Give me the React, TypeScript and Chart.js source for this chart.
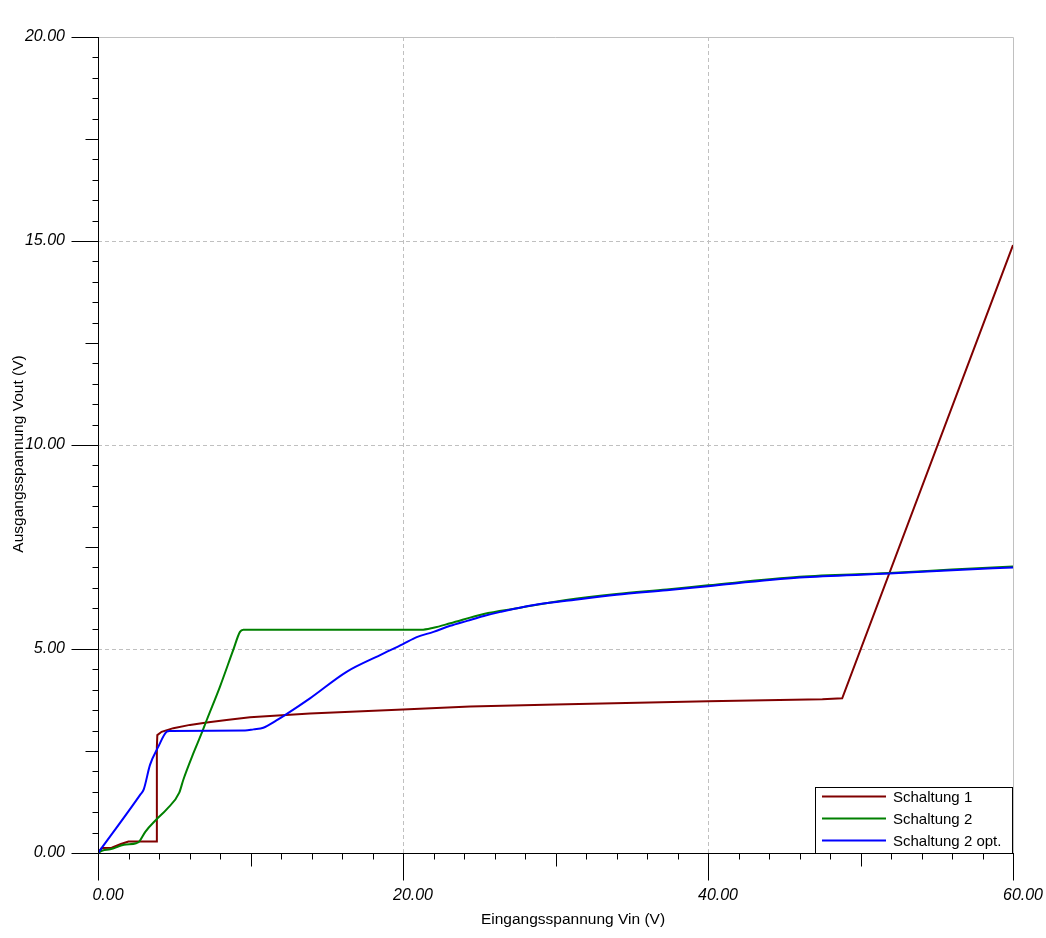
import React, { useEffect, useRef } from "react";
import { Chart, registerables } from "chart.js";

Chart.register(...registerables);

// ---- data ----
const seriesLabels = ["Schaltung 1", "Schaltung 2", "Schaltung 2 opt."];
const seriesColors = ["#800000", "#008000", "#0000ff"];

const s1X = [0, 0.25, 0.9, 1.5, 2.0, 3.82, 3.86, 3.89, 4.17, 4.94, 6.03, 7.13, 8.43, 9.97, 13.9, 20, 24.4, 30, 40, 47.5, 48.8, 60];
const s1Y = [0, 0.12, 0.13, 0.22, 0.28, 0.28, 2.6, 2.89, 2.97, 3.06, 3.14, 3.2, 3.26, 3.33, 3.42, 3.52, 3.59, 3.64, 3.72, 3.77, 3.79, 14.9];

const s2X = [0, 0.3, 0.8, 1.7, 2.5, 2.7, 3.1, 3.8, 4.5, 5.33, 5.59, 6.25, 6.79, 7.13, 8.0, 8.87, 9.31, 9.53, 21.2, 22.0, 23.1, 25.3, 27.5, 30.7, 34.0, 37.3, 40.0, 46.0, 51.9, 56, 60];
const s2Y = [0, 0.06, 0.09, 0.2, 0.24, 0.28, 0.52, 0.81, 1.07, 1.48, 1.79, 2.44, 2.93, 3.26, 4.08, 4.98, 5.42, 5.47, 5.47, 5.52, 5.63, 5.86, 6.0, 6.2, 6.35, 6.46, 6.56, 6.77, 6.86, 6.95, 7.02];

const s3X = [0, 2.75, 3.0, 3.41, 3.95, 4.5, 4.7, 9.64, 10.2, 10.84, 11.7, 12.26, 13.9, 16.3, 18.5, 20.0, 20.9, 22.0, 23.1, 24.2, 25.3, 26.4, 28.6, 30.7, 34.0, 37.3, 40.0, 46.0, 51.9, 56, 60];
const s3Y = [0, 1.42, 1.56, 2.16, 2.6, 2.97, 2.99, 3.0, 3.03, 3.07, 3.25, 3.38, 3.79, 4.44, 4.85, 5.12, 5.29, 5.42, 5.57, 5.69, 5.81, 5.91, 6.08, 6.18, 6.33, 6.44, 6.54, 6.75, 6.85, 6.93, 7.0];

const xMin = 0, xMax = 60, xStep = 2, xLabelEvery = 20, xMidEvery = 10;
const yMin = 0, yMax = 20, yStep = 0.5, yLabelEvery = 5, yMidEvery = 2.5;

const xTitle = "Eingangsspannung Vin (V)";
const yTitle = "Ausgangsspannung Vout (V)";

const FONT = "'Liberation Sans', Arial, sans-serif";
const W = 1046, H = 938;

const isMult = (v: number, m: number) => Math.abs(v / m - Math.round(v / m)) < 1e-6;

const toPts = (xs: number[], ys: number[]) => xs.map((x, i) => ({ x, y: ys[i] }));

const decor = {
  id: "decor",
  beforeDatasetsDraw(chart: any) {
    const { ctx, chartArea: a, scales } = chart;
    const sx = scales.x, sy = scales.y;
    ctx.save();
    ctx.strokeStyle = "#c0c0c0";
    ctx.lineWidth = 1;
    ctx.setLineDash([4, 3]);
    sx.ticks.forEach((t: any) => {
      if (isMult(t.value, xLabelEvery) && t.value > xMin && t.value < xMax) {
        const p = Math.round(sx.getPixelForValue(t.value)) + 0.5;
        ctx.beginPath(); ctx.moveTo(p, a.top); ctx.lineTo(p, a.bottom); ctx.stroke();
      }
    });
    sy.ticks.forEach((t: any) => {
      if (isMult(t.value, yLabelEvery) && t.value > yMin && t.value < yMax) {
        const p = Math.round(sy.getPixelForValue(t.value)) + 0.5;
        ctx.beginPath(); ctx.moveTo(a.left, p); ctx.lineTo(a.right, p); ctx.stroke();
      }
    });
    ctx.setLineDash([]);
    const top = Math.round(sy.getPixelForValue(yMax)) + 0.5;
    const right = Math.round(sx.getPixelForValue(xMax)) + 0.5;
    ctx.beginPath();
    ctx.moveTo(a.left, top); ctx.lineTo(right, top); ctx.lineTo(right, a.bottom);
    ctx.stroke();
    ctx.restore();
  },
  afterDatasetsDraw(chart: any) {
    const { ctx, scales } = chart;
    const sx = scales.x, sy = scales.y;
    ctx.save();
    ctx.strokeStyle = "#000";
    ctx.lineWidth = 1;
    const ax = Math.round(sx.getPixelForValue(xMin)) + 0.5;
    const ay = Math.round(sy.getPixelForValue(yMin)) + 0.5;
    ctx.beginPath();
    ctx.moveTo(ax, Math.round(sy.getPixelForValue(yMax))); ctx.lineTo(ax, ay);
    ctx.moveTo(ax, ay); ctx.lineTo(Math.round(sx.getPixelForValue(xMax)) + 1, ay);
    sx.ticks.forEach((t: any) => {
      const len = isMult(t.value, xLabelEvery) ? 27 : isMult(t.value, xMidEvery) ? 13 : 6;
      const p = Math.round(sx.getPixelForValue(t.value)) + 0.5;
      ctx.moveTo(p, ay); ctx.lineTo(p, ay + len);
    });
    sy.ticks.forEach((t: any) => {
      const len = isMult(t.value, yLabelEvery) ? 27 : isMult(t.value, yMidEvery) ? 13 : 6;
      const p = Math.round(sy.getPixelForValue(t.value)) + 0.5;
      ctx.moveTo(ax, p); ctx.lineTo(ax - len, p);
    });
    ctx.stroke();

    // legend
    const lx = 815.5, ly = 787.5, lw = 197, lh = 66;
    ctx.fillStyle = "#fff";
    ctx.fillRect(lx, ly, lw, lh);
    ctx.strokeStyle = "#000";
    ctx.strokeRect(lx, ly, lw, lh);
    ctx.font = `15px ${FONT}`;
    ctx.textBaseline = "middle";
    ctx.textAlign = "left";
    chart.data.datasets.forEach((ds: any, i: number) => {
      const yy = 796.5 + i * 22;
      ctx.strokeStyle = ds.borderColor;
      ctx.lineWidth = 2;
      ctx.beginPath(); ctx.moveTo(822, yy); ctx.lineTo(886, yy); ctx.stroke();
      ctx.fillStyle = "#000";
      ctx.fillText(ds.label, 893, yy + 1);
    });

    // axis titles
    ctx.fillStyle = "#000";
    ctx.font = `15.5px ${FONT}`;
    ctx.textAlign = "center";
    ctx.textBaseline = "alphabetic";
    ctx.fillText(xTitle, 573, 924);
    ctx.translate(22.5, 454);
    ctx.rotate(-Math.PI / 2);
    ctx.fillText(yTitle, 0, 0);
    ctx.restore();
  },
};

export default function App() {
  const ref = useRef<HTMLCanvasElement | null>(null);
  useEffect(() => {
    document.body.style.margin = "0";
    if (!ref.current) return;
    const tickFont = { family: FONT, size: 16, style: "italic" as const };
    const chart = new Chart(ref.current, {
      type: "line",
      data: {
        datasets: [
          { label: seriesLabels[0], data: toPts(s1X, s1Y), borderColor: seriesColors[0], borderWidth: 2, tension: 0, order: 2 },
          { label: seriesLabels[1], data: toPts(s2X, s2Y), borderColor: seriesColors[1], borderWidth: 2, cubicInterpolationMode: "monotone", order: 1 },
          { label: seriesLabels[2], data: toPts(s3X, s3Y), borderColor: seriesColors[2], borderWidth: 2, cubicInterpolationMode: "monotone", order: 0 },
        ] as any,
      },
      options: {
        animation: false,
        responsive: false,
        events: [],
        layout: { padding: { top: 37, right: 33, left: 0, bottom: 0 } },
        elements: { point: { radius: 0 } },
        plugins: { legend: { display: false }, tooltip: { enabled: false } },
        scales: {
          x: {
            type: "linear",
            min: xMin,
            max: xMax,
            afterFit: (s: any) => { s.height = H - 853; s.paddingRight = 0; s.paddingLeft = 0; },
            grid: { display: false, drawTicks: true, tickLength: 33 },
            border: { display: false },
            ticks: {
              stepSize: xStep,
              autoSkip: false,
              maxRotation: 0,
              padding: 0,
              labelOffset: 10,
              color: "#000",
              font: tickFont,
              callback: (v: any) => (isMult(Number(v), xLabelEvery) ? Number(v).toFixed(2) : ""),
            },
          },
          y: {
            type: "linear",
            min: yMin,
            max: yMax,
            afterFit: (s: any) => { s.width = 98; s.paddingTop = 0; s.paddingBottom = 0; },
            grid: { display: false, drawTicks: true, tickLength: 33 },
            border: { display: false },
            ticks: {
              stepSize: yStep,
              autoSkip: false,
              padding: 0,
              color: "#000",
              font: tickFont,
              callback: (v: any) => (isMult(Number(v), yLabelEvery) ? Number(v).toFixed(2) : ""),
            },
          },
        },
      } as any,
      plugins: [decor],
    });
    return () => chart.destroy();
  }, []);
  return (
    <div style={{ width: W, height: H }}>
      <canvas ref={ref} width={W} height={H} style={{ display: "block" }} />
    </div>
  );
}
